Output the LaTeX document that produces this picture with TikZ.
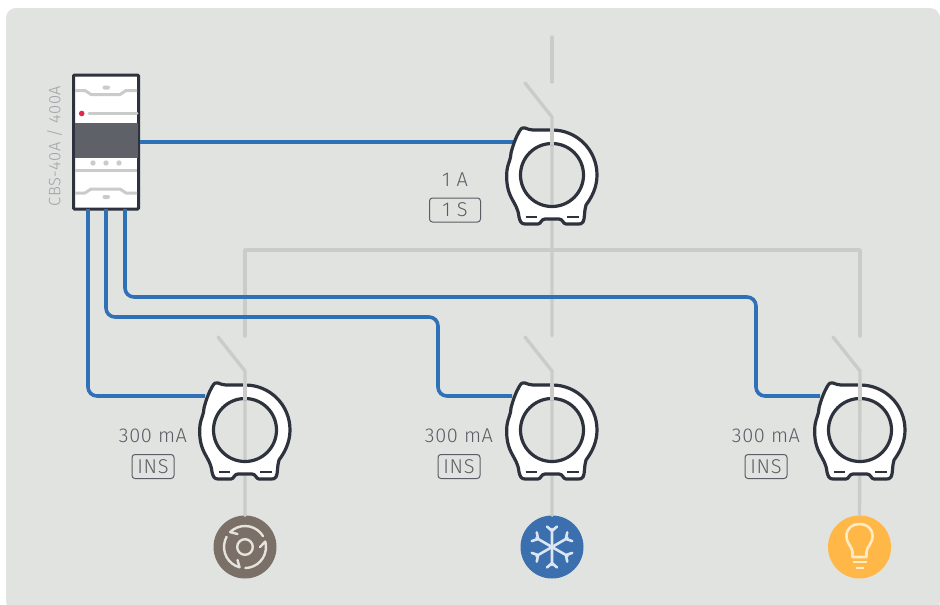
\documentclass[tikz,border=0pt]{standalone}
\usepackage{fontspec}
\setmainfont{Fira Sans}
\newfontfamily\lblfont[LetterSpace=3,UprightFont={* Light}]{Fira Sans}
\definecolor{bgc}{HTML}{E1E3E0}
\definecolor{wire}{HTML}{CACCC9}
\definecolor{bluew}{HTML}{2F70B7}
\definecolor{darkl}{HTML}{2E323C}
\definecolor{txt}{HTML}{5A5D65}
\definecolor{txtl}{HTML}{9DA3A8}
\definecolor{band}{HTML}{5E6168}
\definecolor{browni}{HTML}{7A7067}
\definecolor{bluei}{HTML}{3B6FAE}
\definecolor{yellowi}{HTML}{FFB848}
\definecolor{snow}{HTML}{DCE5F2}
\definecolor{bulbc}{HTML}{FFEBC4}
\definecolor{gearc}{HTML}{E6E3DD}
\definecolor{ledc}{HTML}{E8274B}
\tikzset{
  graywire/.style={draw=wire,line width=3.4pt,line cap=round,line join=round},
  bluewire/.style={draw=bluew,line width=3.6pt,rounded corners=9pt},
  lbl/.style={text=txt,font=\lblfont\fontsize{20}{22}\selectfont,inner sep=0pt},
  tagbox/.style={draw=txt,line width=1pt,rounded corners=3pt,text=txt,font=\lblfont\fontsize{20}{22}\selectfont,inner sep=0pt,minimum height=24pt},
  loadnode/.style={circle,minimum size=63pt,inner sep=0pt},
  sensorline/.style={draw=darkl,line width=3.2pt,line join=round,line cap=round},
  sensor/.pic={
    \path[fill=white,even odd rule]
      (0,-45) .. controls (25,-45) and (45,-25) .. (45,0)
      .. controls (45,12) and (40,22) .. (34,30)
      .. controls (32,36) and (33,44) .. (31,47)
      .. controls (30,49) and (28,49) .. (26,49)
      -- (14,49) .. controls (11,49) and (11,44) .. (7,44)
      -- (-7,44) .. controls (-11,44) and (-11,49) .. (-14,49)
      -- (-27,49) .. controls (-31,49) and (-32,46) .. (-33,42)
      .. controls (-34,33) and (-37,30) .. (-41,22)
      .. controls (-45,14) and (-46,4) .. (-45,-5)
      .. controls (-44,-12) and (-41,-16) .. (-41,-22)
      .. controls (-39,-30) and (-36,-38) .. (-33,-43)
      .. controls (-31,-47) and (-29,-48) .. (-27,-47)
      .. controls (-24,-46) and (-22,-45) .. (-19,-45) -- cycle
      (0,0) circle[radius=31.5];
    \path[sensorline]
      (0,-45) .. controls (25,-45) and (45,-25) .. (45,0)
      .. controls (45,12) and (40,22) .. (34,30)
      .. controls (32,36) and (33,44) .. (31,47)
      .. controls (30,49) and (28,49) .. (26,49)
      -- (14,49) .. controls (11,49) and (11,44) .. (7,44)
      -- (-7,44) .. controls (-11,44) and (-11,49) .. (-14,49)
      -- (-27,49) .. controls (-31,49) and (-32,46) .. (-33,42)
      .. controls (-34,33) and (-37,30) .. (-41,22)
      .. controls (-45,14) and (-46,4) .. (-45,-5)
      .. controls (-44,-12) and (-41,-16) .. (-41,-22)
      .. controls (-39,-30) and (-36,-38) .. (-33,-43)
      .. controls (-31,-47) and (-29,-48) .. (-27,-47)
      .. controls (-24,-46) and (-22,-45) .. (-19,-45) -- cycle;
    \path[sensorline] (0,0) circle[radius=31.5];
    \path[draw=darkl,line width=2pt] (-26.5,42.3) -- (-15,42.3) (15,42.3) -- (26.5,42.3);
    \path[draw=wire,line width=3.4pt] (0,-47) -- (0,-30);
  }
}
\begin{document}
\begin{tikzpicture}[x=1pt,y=-1pt]
\useasboundingbox (0,0) rectangle (940,605);
\fill[white] (0,0) rectangle (940,605);
\fill[bgc,rounded corners=10pt] (6,8) rectangle (940,611);

% named places
\coordinate (s0) at (552,175);
\coordinate (s1) at (245,430);
\coordinate (s2) at (552,430);
\coordinate (s3) at (860,430);
\coordinate (sw0t) at (552,37);
\coordinate (sw0a) at (525,83);
\coordinate (sw0b) at (552,117);
\coordinate (sw1t) at (245,336);
\coordinate (sw1a) at (218,337);
\coordinate (sw1b) at (245,371);
\coordinate (sw2t) at (552,336);
\coordinate (sw2a) at (525,337);
\coordinate (sw2b) at (552,371);
\coordinate (sw3t) at (860,336);
\coordinate (sw3a) at (833,337);
\coordinate (sw3b) at (860,371);
\coordinate (busl) at (245,250);
\coordinate (busm) at (552,250);
\coordinate (busr) at (860,250);
\coordinate (s0w) at (515,142);

\node[loadnode,fill=browni] (l1) at (245,547) {};
\node[loadnode,fill=bluei] (l2) at (552,547) {};
\node[loadnode,fill=yellowi] (l3) at (859.5,547) {};

% grey wiring
\draw[graywire] (sw0t) -- (552,82);
\draw[graywire] (sw0a) -- (sw0b) -- (busm) -- (sw2t);
\draw[graywire] (sw1t) -- (busl) -- (busr) -- (sw3t);
\draw[graywire] (sw1a) -- (sw1b) -- (l1.north);
\draw[graywire] (sw2a) -- (sw2b) -- (l2.north);
\draw[graywire] (sw3a) -- (sw3b) -- (l3.north);

% breaker
\node[draw=darkl,line width=3pt,fill=white,minimum width=65pt,minimum height=134pt,inner sep=0pt,rounded corners=1pt] (cbs) at (106,142) {};
\fill[band] (74.5,123) rectangle (137.5,158);
\draw[draw=wire,line width=3pt,line join=round]
  (75,90.5) -- (85,90.5) -- (91,94.5) -- (120,94.5) -- (126,90.5) -- (137,90.5)
  (75,193) -- (85,193) -- (91,189) -- (120,189) -- (126,193) -- (137,193);
\fill[wire,rounded corners=2pt] (102.5,85.5) rectangle (110,89.5);
\fill[wire,rounded corners=2pt] (102.5,195) rectangle (110,199);
\draw[draw=wire,line width=3pt,line cap=round] (89,113.5) -- (137,113.5);
\draw[draw=wire,line width=3pt] (75,170.5) -- (137,170.5);
\fill[wire] (93,163) circle[radius=2.7] (106,163) circle[radius=2.7] (119,163) circle[radius=2.7];
\fill[ledc] (81.7,113.5) circle[radius=2.8];
\node[text=txtl,font=\lblfont\fontsize{16.5}{18}\selectfont,rotate=90,inner sep=0pt] (cbslabel) at (54.5,146) {CBS-40A / 400A};

% blue wiring
\draw[bluewire] (cbs.east) -- (s0w);
\draw[bluewire] (88,209) -- (88,396) -- (205,396);
\draw[bluewire] (106,209) -- (106,317) -- (438,317) -- (438,396) -- (512,396);
\draw[bluewire] (125,209) -- (125,297) -- (756,297) -- (756,396) -- (820,396);

% sensors
\pic at (s0) {sensor};
\pic at (s1) {sensor};
\pic at (s2) {sensor};
\pic at (s3) {sensor};

% labels
\node[lbl] (a1) at (455,180) {1 A};
\node[tagbox,minimum width=51pt] (t1) at (455,210) {1 S};
\node[lbl] (a2) at (153,436) {300 mA};
\node[tagbox,minimum width=42pt] (t2) at (153,466.5) {INS};
\node[lbl] (a3) at (459,436) {300 mA};
\node[tagbox,minimum width=42pt] (t3) at (459,466.5) {INS};
\node[lbl] (a4) at (766,436) {300 mA};
\node[tagbox,minimum width=42pt] (t4) at (766,466.5) {INS};

% icons
\begin{scope}[shift={(245,547)},draw=gearc,line width=2.4pt]
  \draw (0,0) circle[radius=7.8];
  \foreach \a in {0,120,240}{
    \draw[line cap=round,line join=round]
      plot[smooth,domain={\a+329}:{\a+225},samples=10] ({21*cos(\x)},{21*sin(\x)})
      -- ({15*cos(\a+240)},{15*sin(\a+240)});
  }
\end{scope}
\begin{scope}[shift={(552,547)},draw=snow,line width=2.6pt,line cap=round,line join=round]
  \foreach \a in {30,90,150,210,270,330}{
    \begin{scope}[rotate=\a]
      \draw (0,0) -- (18,0) (20.5,-5) -- (16,0) -- (20.5,5);
    \end{scope}
  }
\end{scope}
\begin{scope}[shift={(859.5,547)},draw=bulbc,line width=2.6pt,line cap=round,line join=round]
  \draw (-7,10) -- (-7,5) .. controls (-7,0) and (-13,-3) .. (-13,-11)
    .. controls (-13,-19) and (-7,-23) .. (0,-23)
    .. controls (7,-23) and (13,-19) .. (13,-11)
    .. controls (13,-3) and (7,0) .. (7,5) -- (7,10) -- cycle;
  \draw[line cap=butt] (-7,15) -- (7,15);
  \draw[line cap=butt] (-4,21) -- (4,21);
\end{scope}
\end{tikzpicture}
\end{document}
